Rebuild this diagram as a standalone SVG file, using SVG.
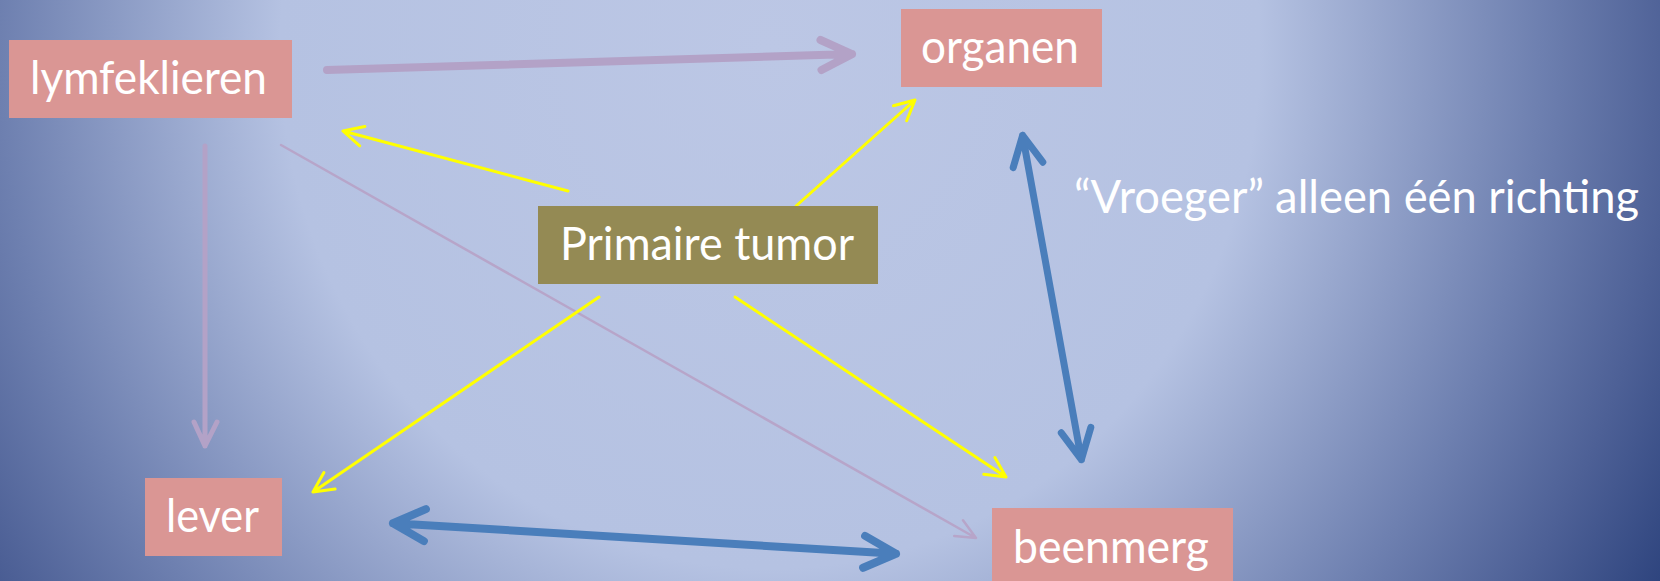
<svg xmlns="http://www.w3.org/2000/svg" width="1660" height="581" viewBox="0 0 1660 581">
  <defs>
    <radialGradient id="bg" gradientUnits="userSpaceOnUse" cx="770" cy="50" r="1029" gradientTransform="translate(770 50) scale(1 1.059) translate(-770 -50)">
      <stop offset="0" stop-color="#bcc7e5"/>
      <stop offset="0.476" stop-color="#b5c2e2"/>
      <stop offset="0.748" stop-color="#6e80b0"/>
      <stop offset="0.88" stop-color="#4d6096"/>
      <stop offset="0.995" stop-color="#2e447e"/>
    </radialGradient>
    <style>
      .box { fill: #da9694; }
      .tumor { fill: #948a54; }
      .lbl { font-family: Lato, "Liberation Sans", sans-serif; font-size: 47px; fill: #ffffff; }
      .a { fill: none; stroke-linecap: round; stroke-linejoin: round; }
      .pthick { stroke: #b3a2c7; stroke-width: 8; }
      .pmid { stroke: #b3a2c7; stroke-width: 5; }
      .pthin { stroke: #b7a5c9; stroke-width: 2.5; }
      .yel { stroke: #ffff00; stroke-width: 3; }
      .blue { stroke: #4a7ebb; stroke-width: 8; }
      .blue2 { stroke: #4a7ebb; stroke-width: 7; }
    </style>
  </defs>
  <rect x="0" y="0" width="1660" height="581" fill="url(#bg)"/>

  <g id="connectors">
    <path class="a pthick" d="M327,70 L852,54.1 M820.5,40 L852,54.1 L821.5,70"/>
    <path class="a pmid" d="M205,146 L205,446 M194,422 L205,446 L217,422"/>
    <path class="a pthin" d="M281,145 L976,538 M954.2,536 L976,538 L963,520.3"/>
    <path class="a yel" d="M568,191 L343,131 M364.9,126.5 L343,131 L359.7,145.8"/>
    <path class="a yel" d="M796,206 L915,100 M906.7,120.8 L915,100 L893.4,105.8"/>
    <path class="a yel" d="M599,297 L313,492 M323.9,472.5 L313,492 L335.1,489"/>
    <path class="a yel" d="M735,297 L1006,477 M983.8,474.3 L1006,477 L994.9,457.6"/>
    <path class="a blue" d="M393,523.2 L896,553.8 M863.1,567.8 L896,553.8 L865.1,535.9 M423.9,541.1 L393,523.2 L425.9,509.1"/>
    <path class="a blue2" d="M1022.6,135.4 L1081.4,459.6 M1013.2,167.6 L1022.6,135.4 L1042.8,162.2 M1061.3,432.8 L1081.4,459.6 L1090.8,427.4"/>
  </g>

  <g id="lymfeklieren">
    <rect class="box" x="9" y="40" width="283" height="78"/>
    <text class="lbl" x="30" y="94" textLength="237" lengthAdjust="spacingAndGlyphs">lymfeklieren</text>
  </g>
  <g id="organen">
    <rect class="box" x="901" y="9" width="201" height="78"/>
    <text class="lbl" x="921" y="63" textLength="158" lengthAdjust="spacingAndGlyphs">organen</text>
  </g>
  <g id="primaire-tumor">
    <rect class="tumor" x="538" y="206" width="340" height="78"/>
    <text class="lbl" x="560" y="260" textLength="294" lengthAdjust="spacingAndGlyphs">Primaire tumor</text>
  </g>
  <g id="lever">
    <rect class="box" x="145" y="478" width="137" height="78"/>
    <text class="lbl" x="166" y="532" textLength="93" lengthAdjust="spacingAndGlyphs">lever</text>
  </g>
  <g id="beenmerg">
    <rect class="box" x="992" y="508" width="241" height="78"/>
    <text class="lbl" x="1013" y="563" textLength="196" lengthAdjust="spacingAndGlyphs">beenmerg</text>
  </g>
  <g id="note">
    <text class="lbl" x="1074" y="213" textLength="565" lengthAdjust="spacingAndGlyphs">“Vroeger” alleen één richting</text>
  </g>
</svg>
